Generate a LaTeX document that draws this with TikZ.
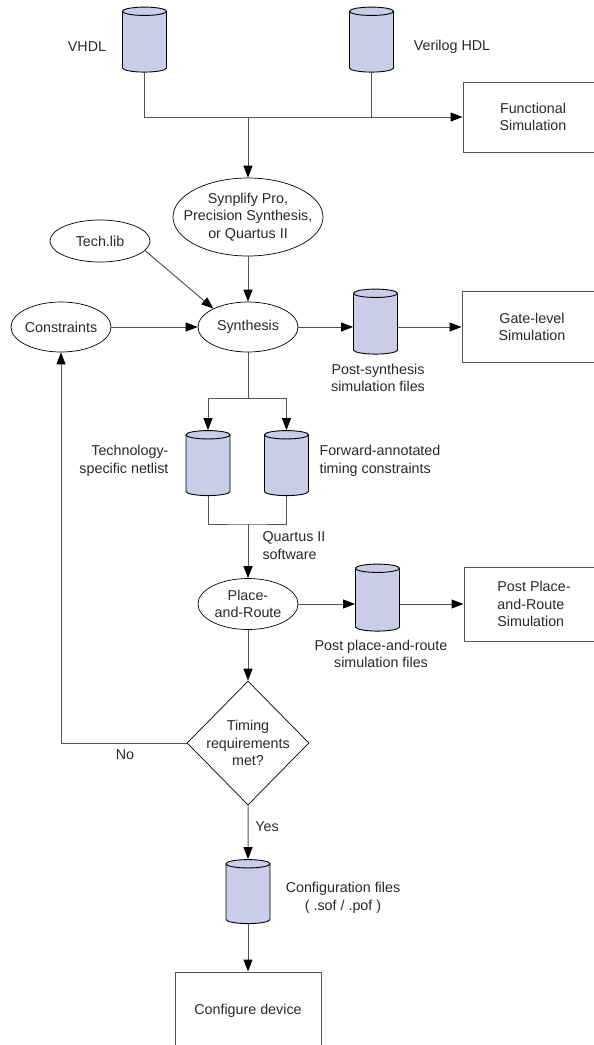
\documentclass[tikz,border=0pt]{standalone}
\usepackage{fontspec}
\setmainfont{Liberation Sans}
\usetikzlibrary{shapes.geometric,arrows.meta}
\definecolor{canfill}{RGB}{201,205,232}
\definecolor{txtgray}{RGB}{40,40,40}
\definecolor{linegray}{RGB}{85,85,85}
\begin{document}
\begin{tikzpicture}[x=1pt,y=-1pt,
    every node/.style={font=\fontsize{14.3}{17.5}\selectfont,text=txtgray,align=center},
    can/.style={cylinder,shape border rotate=90,aspect=0.19,draw=black,line width=0.9pt,
      fill=canfill,minimum width=44pt,minimum height=65pt,inner xsep=22pt,inner ysep=0pt},
    oval/.style={ellipse,draw=black,line width=0.7pt,inner sep=-40pt},
    simbox/.style={rectangle,draw=linegray,line width=1pt,minimum width=140pt,inner sep=0pt},
    decision/.style={diamond,draw=black,line width=0.7pt,aspect=1,inner sep=-40pt,
      minimum width=122pt,minimum height=124pt},
    flow/.style={draw=linegray,line width=1pt},
    tip/.style={-{Triangle[length=12pt,width=9pt,color=black]}}]
  \useasboundingbox (0,0) rectangle (594,1045);
  \clip (0,0) rectangle (594,1045);
  \draw
    (144.5,44) node[can] (vhdl){}
    (87,47) node (vhdllabel){VHDL}
    (371.5,44) node[can] (verilog){}
    (452,47) node (veriloglabel){Verilog HDL}
    (533,117) node[simbox,minimum height=70pt] (fsim){Functional\\Simulation}
    (248,217) node[oval,minimum width=150pt,minimum height=78pt] (synp){Synplify Pro,\\Precision Synthesis,\\or Quartus II}
    (100,241) node[oval,minimum width=100pt,minimum height=42pt] (techlib){Tech.lib}
    (61,327) node[oval,minimum width=100pt,minimum height=50pt] (cons){Constraints}
    (248,327) node[oval,minimum width=100pt,minimum height=50pt] (synth){Synthesis}
    (375.5,326) node[can] (postsyn){}
    (378,378) node (postsynlabel){Post-synthesis\\simulation files}
    (532,327) node[simbox,minimum height=71pt] (gate){Gate-level\\Simulation}
    (208,467.5) node[can] (tech){}
    (172,461) node[anchor=east,align=right] (techlabel){Technology-\\specific netlist}
    (286.5,467.5) node[can] (fwd){}
    (316,461) node[anchor=west,align=left] (fwdlabel){Forward-annotated\\timing constraints}
    (259,545.5) node[anchor=west,align=left] (quartuslabel){Quartus II\\software}
    (248,604) node[oval,minimum width=100pt,minimum height=51pt] (par){Place-\\and-Route}
    (377.5,602) node[can,minimum height=67pt] (parsim){}
    (381,654) node (parsimlabel){Post place-and-route\\simulation files}
    (534,604) node[simbox,minimum height=74pt,align=left] (parbox){Post Place-\\and-Route\\Simulation}
    (248,743) node[decision] (timing){Timing\\requirements\\met?}
    (125,755) node (nolabel){No}
    (267,827) node (yeslabel){Yes}
    (248,896) node[can,minimum height=64pt] (conf){}
    (343,898) node (conflabel){Configuration files\\( .sof / .pof )}
    (248,1011) node[simbox,minimum width=146pt,minimum height=78pt] (device){Configure device};
  \coordinate (split) at (248,398);
  \coordinate (merge) at (248,524);
  \begin{scope}[flow]
    \draw[tip] (vhdl.south) |- (fsim.west);
    \draw (verilog.south) -- (verilog.south |- fsim.west);
    \draw[tip] (synp.north |- fsim.west) -- (synp.north);
    \draw[tip] (techlib.-12) -- (synth.152);
    \draw[tip] (synp) -- (synth);
    \draw[tip] (cons) -- (synth);
    \draw[tip] (synth) -- (synth -| postsyn.west);
    \draw[tip] (synth -| postsyn.east) -- (gate);
    \draw (synth) -- (split);
    \draw[tip] (split) -| (tech.north);
    \draw[tip] (split) -| (fwd.north);
    \draw (tech.south) |- (merge) -| (fwd.south);
    \draw[tip] (merge) -- (par);
    \draw[tip] (par) -- (par -| parsim.west);
    \draw[tip] (par -| parsim.east) -- (parbox);
    \draw[tip] (par) -- (timing);
    \draw[tip] (timing.west) -| (cons.south);
    \draw[tip] (timing) -- (conf);
    \draw[tip] (conf) -- (device);
  \end{scope}
\end{tikzpicture}
\end{document}
